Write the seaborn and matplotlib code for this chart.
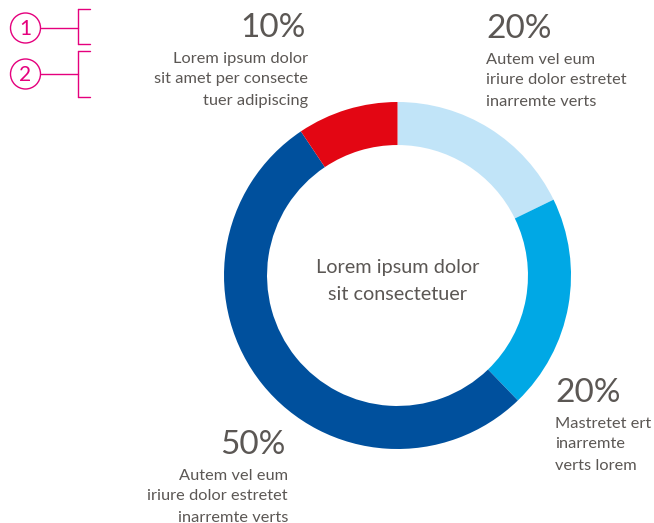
import matplotlib.pyplot as plt
import seaborn as sns
from matplotlib.patches import Ellipse
from matplotlib.lines import Line2D

# Data (clockwise from 12 o'clock)
shares = [17.8, 20.0, 52.8, 9.4]
pct_labels = ["20%", "20%", "50%", "10%"]
captions = [
    ["Autem vel eum", "iriure dolor estretet", "inarremte verts"],
    ["Mastretet ert", "inarremte", "verts lorem"],
    ["Autem vel eum", "iriure dolor estretet", "inarremte verts"],
    ["Lorem ipsum dolor", "sit amet per consecte", "tuer adipiscing"],
]
center_text = ["Lorem ipsum dolor", "sit consectetuer"]
marker_labels = ["1", "2"]

COLORS = ["#C1E4F8", "#00A8E5", "#00509D", "#E30613"]
GREY = "#5B5754"
MAGENTA = "#E5007D"

W, H = 654, 523

sns.set_theme(style="white")
plt.rcParams["font.family"] = ["Lato", "DejaVu Sans"]


def px(x, y):
    # pixel position (from top-left) -> figure fraction
    return x / W, 1 - y / H


fig = plt.figure(figsize=(W / 100, H / 100), dpi=100)
fig.patch.set_facecolor("white")

### Donut
cx, cy, r = 397.5, 275.5, 173.5
ax = fig.add_axes([(cx - r) / W, (H - cy - r) / H, 2 * r / W, 2 * r / H])
ax.pie(shares, colors=COLORS, startangle=90, counterclock=False,
       radius=1, wedgeprops={"width": 0.248, "linewidth": 0})
ax.set_xlim(-1, 1)
ax.set_ylim(-1, 1)
ax.set_aspect("equal")
ax.axis("off")

### Labels: (anchor x, baseline of pct, ha)
label_pos = [
    (486, 38, "left"),
    (555, 402, "left"),
    (288, 454, "right"),
    (308, 37, "right"),
]
for (x, y, ha), pct, lines in zip(label_pos, pct_labels, captions):
    fig.text(*px(x - (2 if ha == "right" else 0), y), pct, ha=ha,
             va="baseline", fontsize=24, color=GREY)
    for i, line in enumerate(lines):
        fig.text(*px(x, y + 25.5 + i * 21), line, ha=ha, va="baseline",
                 fontsize=11.8, color=GREY)

for i, line in enumerate(center_text):
    fig.text(*px(cx, 273 + i * 26.5), line, ha="center", va="baseline",
             fontsize=14.3, color=GREY)

### Numbered markers with brackets (top-left)
markers = [(25.5, 28, 9, 44), (25.5, 74, 51, 97)]
for lab, (mx, my, top, bot) in zip(marker_labels, markers):
    rr = 15
    fig.patches.append(Ellipse(px(mx, my), 2 * rr / W, 2 * rr / H,
                               transform=fig.transFigure, fill=False,
                               edgecolor=MAGENTA, linewidth=1.0))
    fig.text(*px(mx, my + 1), lab, ha="center", va="center",
             fontsize=15, color=MAGENTA)
    for xs, ys in [((mx + rr, 78), (my, my)),
                   ((78, 78), (top, bot)),
                   ((78, 90), (top, top)),
                   ((78, 90), (bot, bot))]:
        fig.lines.append(Line2D([x / W for x in xs], [1 - y / H for y in ys],
                                transform=fig.transFigure, color=MAGENTA,
                                linewidth=1.0))

fig.savefig("out.png", dpi=100, facecolor="white")
